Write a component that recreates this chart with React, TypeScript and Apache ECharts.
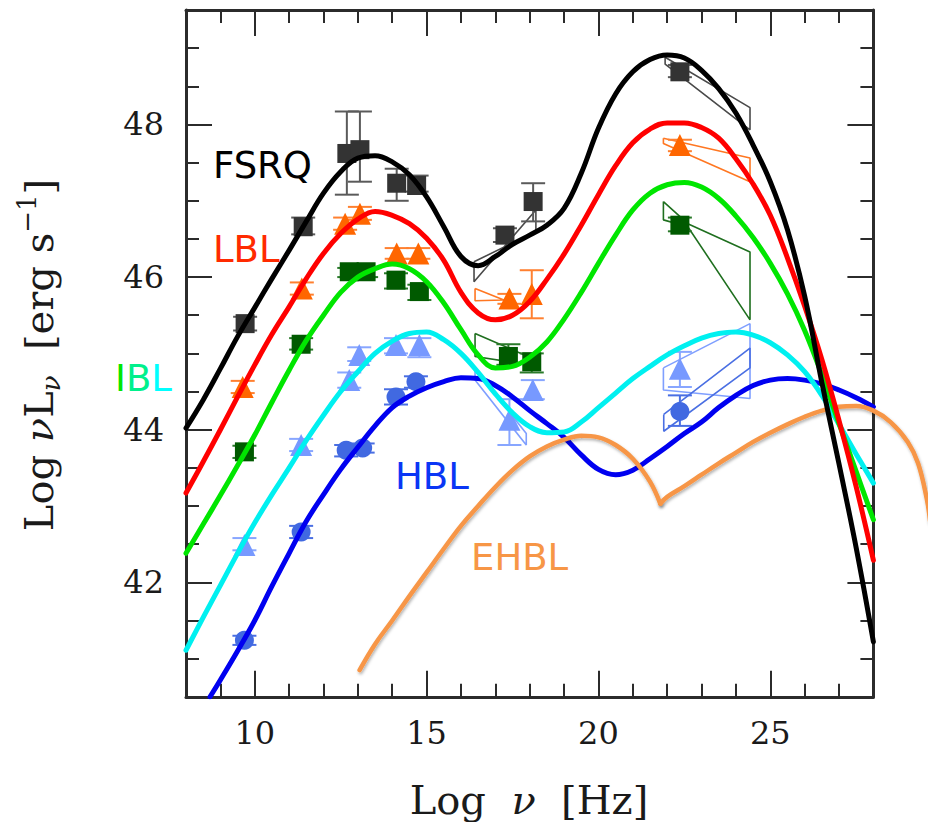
import React, { useEffect, useRef } from "react";
import * as echarts from "echarts";

// ---------- axes ----------
const xMin = 8;
const xMax = 28;
const yMin = 40.5;
const yMax = 49.5;
const xTickValues = [10, 15, 20, 25];
const yTickValues = [42, 44, 46, 48];
// the EHBL curve runs past the right frame, up to this frequency
const ehblXMax = 29.7;

// ---------- model curves (Log nu, Log nuL_nu) ----------
const fsrqCurve = [[8,44.02],[8.5,44.39],[9,44.8],[9.5,45.22],[10,45.6],[10.5,45.98],[11,46.35],[11.5,46.73],[12,47.1],[12.5,47.38],[13,47.56],[13.5,47.59],[14,47.51],[14.5,47.34],[15,47.05],[15.5,46.66],[16,46.27],[16.5,46.15],[17,46.27],[17.5,46.43],[18,46.55],[18.5,46.68],[19,46.9],[19.5,47.36],[20,47.95],[20.5,48.4],[21,48.69],[21.5,48.85],[22,48.91],[22.5,48.87],[23,48.71],[23.5,48.47],[24,48.15],[24.5,47.73],[25,47.25],[25.5,46.62],[26,45.75],[26.5,44.62],[27,43.55],[27.5,42.45],[28,41.22]];
const lblCurve = [[8,43.17],[8.5,43.58],[9,44.0],[9.5,44.43],[10,44.85],[10.5,45.25],[11,45.61],[11.5,45.98],[12,46.31],[12.5,46.57],[13,46.76],[13.5,46.86],[14,46.81],[14.5,46.7],[15,46.51],[15.5,46.22],[16,45.8],[16.5,45.53],[17,45.44],[17.5,45.5],[18,45.68],[18.5,45.97],[19,46.3],[19.5,46.68],[20,47.08],[20.5,47.46],[21,47.76],[21.5,47.94],[22,48.02],[22.5,48.02],[23,47.96],[23.5,47.82],[24,47.55],[24.5,47.22],[25,46.81],[25.5,46.25],[26,45.62],[26.5,44.92],[27,44.12],[27.5,43.25],[28,42.29]];
const iblGreenCurve = [[8,42.38],[8.5,42.76],[9,43.14],[9.5,43.53],[10,43.93],[10.5,44.36],[11,44.78],[11.5,45.17],[12,45.5],[12.5,45.8],[13,46.0],[13.5,46.11],[14,46.17],[14.5,46.11],[15,45.94],[15.5,45.66],[16,45.31],[16.5,44.98],[17,44.81],[17.5,44.83],[18,44.95],[18.5,45.15],[19,45.45],[19.5,45.8],[20,46.18],[20.5,46.55],[21,46.88],[21.5,47.1],[22,47.21],[22.5,47.24],[23,47.18],[23.5,47.03],[24,46.8],[24.5,46.52],[25,46.18],[25.5,45.78],[26,45.3],[26.5,44.72],[27,44.08],[27.5,43.45],[28,42.82]];
const iblCyanCurve = [[8,41.11],[8.5,41.54],[9,41.96],[9.5,42.38],[10,42.78],[10.5,43.15],[11,43.5],[11.5,43.86],[12,44.19],[12.5,44.5],[13,44.76],[13.5,45.0],[14,45.16],[14.5,45.26],[15,45.28],[15.5,45.18],[16,45.0],[16.5,44.75],[17,44.47],[17.5,44.22],[18,44.04],[18.5,43.96],[19,43.97],[19.5,44.1],[20,44.29],[20.5,44.48],[21,44.67],[21.5,44.83],[22,44.98],[22.5,45.1],[23,45.2],[23.5,45.26],[24,45.28],[24.5,45.24],[25,45.14],[25.5,44.98],[26,44.76],[26.5,44.45],[27,44.07],[27.5,43.68],[28,43.3]];
const hblCurve = [[8.7,40.5],[9,40.72],[9.5,41.1],[10,41.5],[10.5,41.95],[11,42.38],[11.5,42.8],[12,43.15],[12.5,43.48],[13,43.77],[13.5,44.05],[14,44.29],[14.5,44.44],[15,44.55],[15.5,44.63],[16,44.68],[16.5,44.67],[17,44.58],[17.5,44.43],[18,44.25],[18.5,44.08],[19,43.9],[19.5,43.67],[20,43.48],[20.5,43.41],[21,43.47],[21.5,43.62],[22,43.78],[22.5,43.95],[23,44.1],[23.5,44.29],[24,44.45],[24.5,44.58],[25,44.65],[25.5,44.67],[26,44.65],[26.5,44.6],[27,44.52],[27.5,44.42],[28,44.3]];
const ehblSynchrotron = [[13.05,40.85],[13.5,41.19],[14,41.5],[14.5,41.82],[15,42.13],[15.5,42.44],[16,42.74],[16.5,43.0],[17,43.25],[17.5,43.47],[18,43.65],[18.5,43.78],[19,43.87],[19.5,43.92],[20,43.9],[20.5,43.8],[21,43.62],[21.5,43.32],[21.8,43.03]];
const ehblCompton = [[21.8,43.03],[22,43.12],[22.5,43.26],[23,43.41],[23.5,43.56],[24,43.7],[24.5,43.84],[25,43.96],[25.5,44.07],[26,44.17],[26.5,44.25],[27,44.3],[27.5,44.31],[28,44.25],[28.5,44.1],[29,43.84],[29.3,43.56],[29.55,43.1],[29.65,42.8]];

// ---------- data points: [x, y, yLow, yHigh] ----------
const fsrqPoints = [[9.72,45.39,45.3,45.48],[11.41,46.66,46.56,46.78],[12.68,47.62,47.08,48.17],[13.06,47.67,47.25,48.17],[14.13,47.23,47.0,47.42],[14.71,47.2,47.12,47.33],[17.28,46.55,46.46,46.64],[18.1,46.99,46.73,47.23],[22.37,48.69,48.62,48.78]];
const lblPoints = [[9.65,44.56,44.48,44.64],[11.37,45.85,45.77,45.93],[12.63,46.7,46.62,46.78],[13.06,46.83,46.75,46.92],[14.13,46.31,46.24,46.38],[14.76,46.31,46.24,46.38],[17.41,45.72,45.65,45.78],[18.06,45.78,45.46,46.09],[22.37,47.73,47.65,47.8]];
const iblGreenPoints = [[9.7,43.71,43.63,43.79],[11.35,45.12,45.05,45.2],[12.75,46.07,46.0,46.12],[13.24,46.07,46.0,46.12],[14.11,45.96,45.85,46.05],[14.79,45.81,45.7,45.9],[17.38,44.96,44.85,45.12],[18.06,44.89,44.75,45.0],[22.37,46.68,46.6,46.78]];
const iblBluePoints = [[9.7,42.49,42.42,42.58],[11.35,43.8,43.72,43.88],[12.75,44.65,44.55,44.75],[13.04,44.98,44.9,45.08],[14.11,45.11,45.0,45.2],[14.79,45.11,44.95,45.2],[17.41,44.13,43.8,44.4],[18.09,44.52,44.4,44.65],[22.37,44.8,44.56,45.02]];
const hblPoints = [[9.7,41.24,41.18,41.3],[11.35,42.66,42.58,42.74],[12.66,43.73,43.65,43.8],[13.14,43.76,43.7,43.82],[14.11,44.43,44.33,44.53],[14.69,44.63,44.55,44.7],[22.37,44.24,44.05,44.45]];

// ---------- bow-ties (X-ray and gamma-ray spectra) ----------
const fsrqBowties = [
  [[16.38,46.2],[18.18,46.6],[18.18,46.88],[16.38,45.94],[16.38,46.2]],
  [[21.94,48.88],[24.41,48.22],[24.41,47.93],[21.94,48.79],[21.94,48.88]],
];
const lblBowties = [
  [[16.41,45.85],[17.25,45.7],[16.41,45.69],[16.41,45.85]],
  [[21.89,47.82],[24.41,47.56],[24.41,47.25],[21.89,47.75],[21.89,47.82]],
];
const iblGreenBowties = [
  [[16.41,45.26],[18.0,44.95],[18.0,44.85],[16.41,44.96],[16.41,45.26]],
  [[21.89,46.99],[22.6,46.7],[24.41,46.33],[24.41,45.44],[22.6,46.66],[21.89,46.75],[21.89,46.99]],
];
const iblBlueBowties = [
  [[16.41,44.8],[17.9,43.95],[17.9,43.8],[16.41,44.65],[16.41,44.8]],
  [[21.89,44.81],[24.41,45.39],[24.41,44.41],[21.89,44.52],[21.89,44.81]],
];
const hblBowties = [
  [[21.9,44.2],[24.41,45.07],[24.41,44.81],[21.9,43.98],[21.9,44.2]],
];

const SERIF = "DejaVu Serif";
const SANS = "DejaVu Sans";
const FRAME = "#2b2b2b";

const GRID_LEFT = 186;
const GRID_TOP = 10;
const GRID_W = 687.4;
const GRID_H = 686.8;

function errorBars(data: number[][], color: string) {
  return {
    type: "custom",
    z: 3,
    data,
    encode: { x: 0, y: 1 },
    renderItem: (_p: any, api: any) => {
      const x = api.value(0);
      const lo = api.coord([x, api.value(2)]);
      const hi = api.coord([x, api.value(3)]);
      const w = 12;
      const st = { stroke: color, lineWidth: 2 };
      return {
        type: "group",
        children: [
          { type: "line", shape: { x1: lo[0], y1: lo[1], x2: hi[0], y2: hi[1] }, style: st },
          { type: "line", shape: { x1: lo[0] - w, y1: lo[1], x2: lo[0] + w, y2: lo[1] }, style: st },
          { type: "line", shape: { x1: hi[0] - w, y1: hi[1], x2: hi[0] + w, y2: hi[1] }, style: st },
        ],
      };
    },
  };
}

function markers(data: number[][], symbol: string, size: number, color: string) {
  return {
    type: "scatter",
    z: 4,
    symbol,
    symbolSize: size,
    itemStyle: { color, opacity: 1 },
    data: data.map((d) => [d[0], d[1]]),
  };
}

function bowties(list: number[][][], color: string) {
  return list.map((poly) => ({
    type: "line",
    z: 2,
    symbol: "none",
    smooth: false,
    lineStyle: { color, width: 1.6 },
    data: poly,
  }));
}

function curve(data: number[][], color: string, width: number, z: number, extra: any = {}) {
  return {
    type: "line",
    z,
    symbol: "none",
    smooth: 0.4,
    xAxisIndex: extra.axis || 0,
    yAxisIndex: extra.axis || 0,
    lineStyle: { color, width, cap: "round", join: "round", ...(extra.lineStyle || {}) },
    data,
    clip: extra.clip !== undefined ? extra.clip : true,
  };
}

function makeX(position: string, major: boolean) {
  return {
    type: "value",
    gridIndex: 0,
    position,
    min: xMin,
    max: xMax,
    ...(major ? {} : { interval: 1 }),
    axisLine: { show: major, onZero: false, lineStyle: { color: FRAME, width: 3 } },
    axisTick: major
      ? { show: true, inside: true, length: 26, customValues: xTickValues, lineStyle: { color: FRAME, width: 2 } }
      : { show: true, inside: true, length: 13, lineStyle: { color: FRAME, width: 2 } },
    axisLabel:
      major && position === "bottom"
        ? { show: true, customValues: xTickValues, margin: 20, fontFamily: SERIF, fontSize: 32, color: "#1a1a1a" }
        : { show: false },
    splitLine: { show: false },
  };
}

function makeY(position: string, major: boolean) {
  return {
    type: "value",
    gridIndex: 0,
    position,
    min: yMin,
    max: yMax,
    ...(major ? {} : { interval: 0.5 }),
    axisLine: { show: major, onZero: false, lineStyle: { color: FRAME, width: 3 } },
    axisTick: major
      ? { show: true, inside: true, length: 26, customValues: yTickValues, lineStyle: { color: FRAME, width: 2 } }
      : { show: true, inside: true, length: 13, lineStyle: { color: FRAME, width: 2 } },
    axisLabel:
      major && position === "left"
        ? { show: true, customValues: yTickValues, margin: 22, fontFamily: SERIF, fontSize: 32, color: "#1a1a1a" }
        : { show: false },
    splitLine: { show: false },
  };
}

export default function App() {
  const ref = useRef<HTMLDivElement>(null);
  useEffect(() => {
    if (!ref.current) return;
    const chart = echarts.init(ref.current, null, { renderer: "svg" });
    const pxPerUnit = GRID_W / (xMax - xMin);
    const orangeShadow = { shadowColor: "rgba(0,0,0,0.3)", shadowBlur: 3, shadowOffsetX: 1, shadowOffsetY: 2 };
    const option: any = {
      animation: false,
      backgroundColor: "#ffffff",
      grid: [
        { left: GRID_LEFT, top: GRID_TOP, width: GRID_W, height: GRID_H, outerBoundsMode: "none", containLabel: false },
        // same scale, extended to the right so the EHBL curve can leave the frame
        { left: GRID_LEFT, top: GRID_TOP, width: pxPerUnit * (ehblXMax - xMin), height: GRID_H, outerBoundsMode: "none", containLabel: false },
      ],
      xAxis: [
        makeX("bottom", true), makeX("bottom", false), makeX("top", true), makeX("top", false),
        { type: "value", gridIndex: 1, min: xMin, max: ehblXMax, show: false },
      ],
      yAxis: [
        makeY("left", true), makeY("left", false), makeY("right", true), makeY("right", false),
        { type: "value", gridIndex: 1, min: yMin, max: yMax, show: false },
      ],
      series: [
        ...bowties(fsrqBowties, "#4a4a4a"),
        ...bowties(lblBowties, "#FF7722"),
        ...bowties(iblGreenBowties, "#1F6F1F"),
        ...bowties(iblBlueBowties, "#7F9FFF"),
        ...bowties(hblBowties, "#4A6FE3"),
        errorBars(fsrqPoints, "#5a5a5a"),
        errorBars(lblPoints, "#FF8030"),
        errorBars(iblGreenPoints, "#2A7A2A"),
        errorBars(iblBluePoints, "#88A6FF"),
        errorBars(hblPoints, "#4A6FE3"),
        markers(fsrqPoints, "rect", 19, "#333333"),
        markers(lblPoints, "triangle", 22, "#FF6600"),
        markers(iblGreenPoints, "rect", 19, "#005A00"),
        markers(iblBluePoints, "triangle", 22, "#7799FF"),
        markers(hblPoints, "circle", 19, "#4169E1"),
        curve(hblCurve, "#0000F0", 5, 5),
        curve(ehblSynchrotron, "#F79646", 4.5, 6, { clip: false, axis: 4, lineStyle: orangeShadow }),
        curve(ehblCompton, "#F79646", 4.5, 6, { clip: false, axis: 4, lineStyle: orangeShadow }),
        curve(iblCyanCurve, "#00F0F0", 5, 7),
        curve(iblGreenCurve, "#00E600", 5, 8),
        curve(lblCurve, "#FF0000", 5, 9),
        curve(fsrqCurve, "#000000", 5, 10),
      ],
      graphic: [
        { type: "text", x: 213, y: 165, z: 20, style: { text: "FSRQ", fill: "#000000", fontFamily: SANS, fontSize: 37, align: "left", verticalAlign: "middle" } },
        { type: "text", x: 213, y: 249, z: 20, style: { text: "LBL", fill: "#FF2A00", fontFamily: SANS, fontSize: 37, align: "left", verticalAlign: "middle" } },
        {
          type: "text", x: 115, y: 378, z: 20,
          style: {
            text: "{a|I}{b|B}{c|L}", fontFamily: SANS, fontSize: 37, align: "left", verticalAlign: "middle",
            rich: {
              a: { fill: "#00E600", fontFamily: SANS, fontSize: 37 },
              b: { fill: "#00F08C", fontFamily: SANS, fontSize: 37 },
              c: { fill: "#00FFFF", fontFamily: SANS, fontSize: 37 },
            },
          },
        },
        { type: "text", x: 395, y: 476, z: 20, style: { text: "HBL", fill: "#0A36F5", fontFamily: SANS, fontSize: 37, align: "left", verticalAlign: "middle" } },
        { type: "text", x: 471, y: 557, z: 20, style: { text: "EHBL", fill: "#F79646", fontFamily: SANS, fontSize: 37, align: "left", verticalAlign: "middle" } },
        {
          type: "text", x: 529, y: 800, z: 20,
          style: {
            text: "{a|Log  }{i|ν}{a|  [Hz]}", align: "center", verticalAlign: "middle", fill: "#1a1a1a",
            rich: {
              a: { fontFamily: SERIF, fontSize: 40, fill: "#1a1a1a" },
              i: { fontFamily: SERIF, fontSize: 40, fontStyle: "italic", fill: "#1a1a1a" },
            },
          },
        },
        {
          type: "text", x: 39, y: 355, z: 20, rotation: Math.PI / 2,
          style: {
            text: "{a|Log }{i|ν}{a|L}{s|ν}{a|  [erg s}{p|−1}{a|]}", align: "center", verticalAlign: "middle", fill: "#1a1a1a",
            rich: {
              a: { fontFamily: SERIF, fontSize: 40, lineHeight: 50, fill: "#1a1a1a" },
              i: { fontFamily: SERIF, fontSize: 40, lineHeight: 50, fontStyle: "italic", fill: "#1a1a1a" },
              s: { fontFamily: SERIF, fontSize: 26, lineHeight: 26, fontStyle: "italic", verticalAlign: "bottom", fill: "#1a1a1a" },
              p: { fontFamily: SERIF, fontSize: 26, lineHeight: 26, verticalAlign: "top", fill: "#1a1a1a" },
            },
          },
        },
      ],
    };
    chart.setOption(option);
    return () => chart.dispose();
  }, []);
  return (
    <div
      ref={ref}
      style={{ position: "fixed", left: 0, top: 0, width: 928, height: 822, background: "#ffffff" }}
    />
  );
}
